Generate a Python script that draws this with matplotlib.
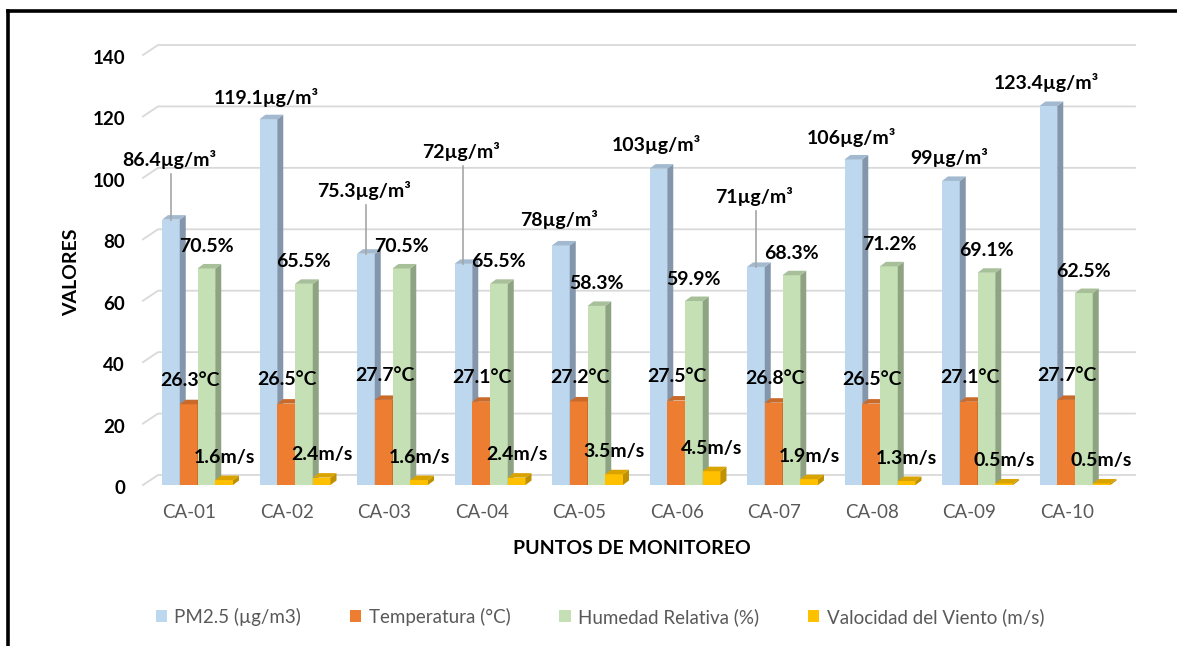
import matplotlib.pyplot as plt
from matplotlib.patches import Rectangle, Polygon, Patch
from matplotlib.lines import Line2D
from matplotlib.transforms import ScaledTranslation

plt.rcParams["font.family"] = ["Lato", "DejaVu Sans"]

# data
puntos = ["CA-01", "CA-02", "CA-03", "CA-04", "CA-05",
          "CA-06", "CA-07", "CA-08", "CA-09", "CA-10"]
pm25 = [86.4, 119.1, 75.3, 72, 78, 103, 71, 106, 99, 123.4]
temperatura = [26.3, 26.5, 27.7, 27.1, 27.2, 27.5, 26.8, 26.5, 27.1, 27.7]
humedad = [70.5, 65.5, 70.5, 65.5, 58.3, 59.9, 68.3, 71.2, 69.1, 62.5]
viento = [1.6, 2.4, 1.6, 2.4, 3.5, 4.5, 1.9, 1.3, 0.5, 0.5]

pm_labels = ["86.4", "119.1", "75.3", "72", "78", "103", "71", "106", "99", "123.4"]
y_ticks = list(range(0, 141, 20))
series_names = ["PM2.5 (µg/m3)", "Temperatura (°C)",
                "Humedad Relativa (%)", "Valocidad del Viento (m/s)"]

# layout: how far (pixels) the PM label sits above its bar, and which get a leader line
pm_lift = [60, 22, 63, 112, 26, 24, 70, 22, 23, 23]
pm_leader = [True, False, True, True, False, False, True, False, False, False]

# front, side, top colours per series
colors = [
    ("#BDD7EE", "#8396AB", "#A3B9CF"),
    ("#ED7D31", "#B35E25", "#C96A2A"),
    ("#C5E0B4", "#8DA381", "#A8C09A"),
    ("#FFC000", "#BF9000", "#D9A300"),
]

W, H = 1177, 646
fig = plt.figure(figsize=(W / 100, H / 100), dpi=100)
ax_l, ax_r, ax_b, ax_t = 143, 1135, 485, 55
ax = fig.add_axes([ax_l / W, 1 - ax_b / H, (ax_r - ax_l) / W, (ax_b - ax_t) / H])

px_x = 97.5              # pixels per category
px_y = (ax_b - ax_t) / 140.0
first_center = 197.5
xmin = -(first_center - ax_l) / px_x
xmax = (ax_r - first_center) / px_x
ax.set_xlim(xmin, xmax)
ax.set_ylim(0, 140)
for s in ax.spines.values():
    s.set_visible(False)

# back-wall gridlines with the little slanted floor segment
gdx, gdy = 15 / px_x, 10 / px_y
for v in y_ticks:
    ax.plot([xmin, xmin + gdx, xmax], [v, v + gdy, v + gdy],
            color="#D9D9D9", lw=1.3, zorder=0, clip_on=False)

bw = 17.75 / px_x
ddx, ddy = 6 / px_x, 4.5 / px_y
series = [pm25, temperatura, humedad, viento]
for i in range(len(puntos)):
    for k, vals in enumerate(series):
        v = vals[i]
        x0 = i - 2 * bw + k * bw
        front, side, top = colors[k]
        z = 2 + k
        ax.add_patch(Rectangle((x0, 0), bw, v, facecolor=front, edgecolor="none", zorder=z))
        ax.add_patch(Polygon([(x0 + bw, 0), (x0 + bw + ddx, ddy), (x0 + bw + ddx, v + ddy),
                              (x0 + bw, v)], closed=True, facecolor=side,
                             edgecolor="none", zorder=z))
        ax.add_patch(Polygon([(x0, v), (x0 + ddx, v + ddy), (x0 + bw + ddx, v + ddy),
                              (x0 + bw, v)], closed=True, facecolor=top,
                             edgecolor="none", zorder=z))

lab_kw = dict(ha="center", va="center", fontsize=14, fontweight="bold",
              color="black", zorder=20, textcoords="offset pixels")
for i in range(len(puntos)):
    cx = [i - 2 * bw + k * bw + bw / 2 for k in range(4)]
    ax.annotate(f"{pm_labels[i]}µg/m³", (cx[0], pm25[i]), xytext=(-2, pm_lift[i]), **lab_kw)
    if pm_leader[i]:
        ax.plot([cx[0], cx[0]], [pm25[i], pm25[i] + (pm_lift[i] - 14) / px_y],
                color="#A6A6A6", lw=1.2, zorder=15)
    ax.annotate(f"{temperatura[i]}°C", (cx[1], temperatura[i]), xytext=(1, 24), **lab_kw)
    ax.annotate(f"{humedad[i]}%", (cx[2], humedad[i]), xytext=(0, 22), **lab_kw)
    ax.annotate(f"{viento[i]}m/s", (cx[3], viento[i]), xytext=(0, 23), **lab_kw)

ax.set_yticks(y_ticks)
ax.set_yticklabels([str(t) for t in y_ticks], fontsize=13.5, fontweight="bold", color="black")
ax.set_xticks(range(len(puntos)))
ax.set_xticklabels(puntos, fontsize=13.5, color="#595959")
ax.tick_params(axis="y", length=0, pad=13)
ax.tick_params(axis="x", length=0, pad=14)
for lbl in ax.get_xticklabels():
    lbl.set_transform(lbl.get_transform() + ScaledTranslation(-8 / 100, 0, fig.dpi_scale_trans))
for lbl in ax.get_yticklabels():
    lbl.set_transform(lbl.get_transform() + ScaledTranslation(0, -2 / 100, fig.dpi_scale_trans))

fig.text(72 / W, 1 - 272 / H, "VALORES", rotation=90, ha="center", va="center",
         fontsize=14, fontweight="bold")
fig.text(632 / W, 1 - 549 / H, "PUNTOS DE MONITOREO", ha="center", va="center",
         fontsize=14, fontweight="bold")

handles = [Patch(facecolor=c[0], edgecolor="none") for c in colors]
fig.legend(handles, series_names, loc="center", bbox_to_anchor=(600 / W, 1 - 617 / H),
           ncol=4, frameon=False, fontsize=13.5, labelcolor="#595959",
           handlelength=0.6, handleheight=0.6, handletextpad=0.4, columnspacing=2.6)

# black frame along top and left edge
fig.add_artist(Line2D([8 / W, 8 / W], [0, 1 - 11 / H], color="black", lw=2.6))
fig.add_artist(Line2D([8 / W, 1], [1 - 11 / H, 1 - 11 / H], color="black", lw=2.6))

fig.savefig("out.png", dpi=100)
